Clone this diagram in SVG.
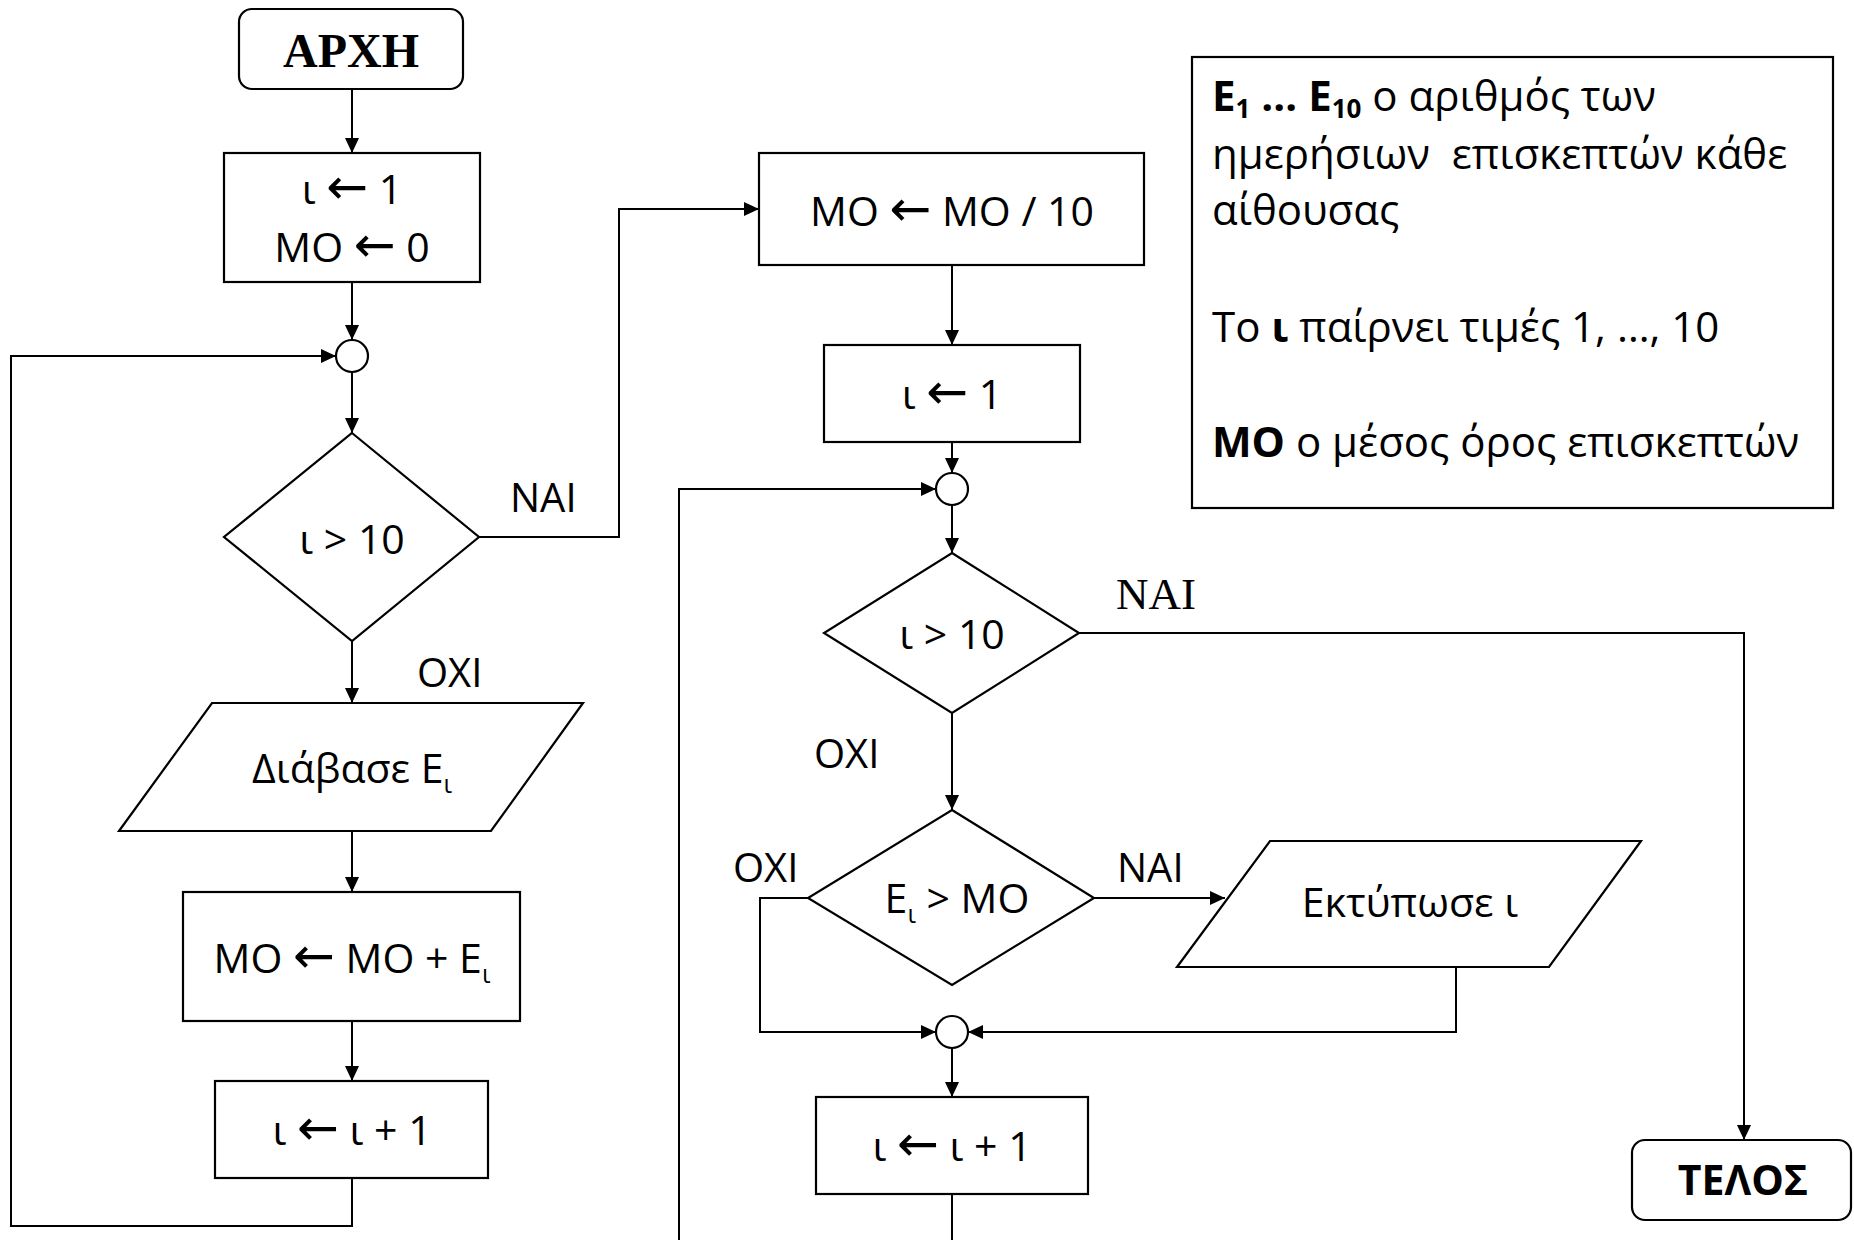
<svg xmlns="http://www.w3.org/2000/svg" width="1854" height="1240" viewBox="0 0 1854 1240">
<defs>
<style>
.shape{fill:#fff;stroke:#000;stroke-width:2.2}
.conn{fill:none;stroke:#000;stroke-width:2}
.t{font-family:"Open Sans","DejaVu Sans",sans-serif;font-size:41px;fill:#000;text-anchor:middle}
.lbl{font-family:"Open Sans","DejaVu Sans",sans-serif;font-size:40px;fill:#000}
.serif{font-family:"Liberation Serif","Times New Roman",serif;fill:#000}
.leg{font-family:"Open Sans","DejaVu Sans",sans-serif;font-size:42px;fill:#000;white-space:pre}
.b{font-weight:bold}
.arr{font-family:"DejaVu Sans",sans-serif;font-size:50px}
</style>
<marker id="ah" viewBox="0 0 15 14" refX="15" refY="7" markerWidth="15" markerHeight="14" markerUnits="userSpaceOnUse" orient="auto">
<path d="M0,0 L15,7 L0,14 z" fill="#000"/>
</marker>
</defs>
<rect width="1854" height="1240" fill="#fff"/>

<g id="connectors">
<path class="conn" marker-end="url(#ah)" d="M352,89 V153"/>
<path class="conn" marker-end="url(#ah)" d="M352,282 V340"/>
<path class="conn" marker-end="url(#ah)" d="M352,372 V433"/>
<path class="conn" marker-end="url(#ah)" d="M479,537 H619 V209 H759"/>
<path class="conn" marker-end="url(#ah)" d="M352,641 V703"/>
<path class="conn" marker-end="url(#ah)" d="M352,831 V892"/>
<path class="conn" marker-end="url(#ah)" d="M352,1021 V1081"/>
<path class="conn" marker-end="url(#ah)" d="M352,1178 V1226 H11 V356 H336"/>
<path class="conn" marker-end="url(#ah)" d="M952,265 V345"/>
<path class="conn" marker-end="url(#ah)" d="M952,442 V473"/>
<path class="conn" marker-end="url(#ah)" d="M952,505 V553"/>
<path class="conn" marker-end="url(#ah)" d="M1079,633 H1744 V1140"/>
<path class="conn" marker-end="url(#ah)" d="M952,713 V810"/>
<path class="conn" marker-end="url(#ah)" d="M1094,898 H1225"/>
<path class="conn" marker-end="url(#ah)" d="M808,898 H760 V1032 H936"/>
<path class="conn" marker-end="url(#ah)" d="M1456,967 V1032 H968"/>
<path class="conn" marker-end="url(#ah)" d="M952,1048 V1097"/>
<path class="conn" d="M952,1194 V1240"/>
<path class="conn" marker-end="url(#ah)" d="M679,1240 V489 H936"/>
</g>

<g id="labels">
<text class="lbl" x="510" y="512">ΝΑΙ</text>
<text class="lbl" x="417" y="687">ΟΧΙ</text>
<text class="serif" x="1116" y="609" font-size="45">ΝΑΙ</text>
<text class="lbl" x="814" y="768">ΟΧΙ</text>
<text class="lbl" x="733" y="882">ΟΧΙ</text>
<text class="lbl" x="1117" y="882">ΝΑΙ</text>
</g>

<g id="start">
<rect class="shape" x="239" y="9" width="224" height="80" rx="13"/>
<text class="serif b" x="351" y="67" font-size="48" text-anchor="middle">ΑΡΧΗ</text>
</g>

<g id="init1">
<rect class="shape" x="224" y="153" width="256" height="129"/>
<text class="t" x="352" y="204">ι <tspan class="arr">←</tspan> 1</text>
<text class="t" x="352" y="262">ΜΟ <tspan class="arr">←</tspan> 0</text>
</g>

<g id="join1">
<circle class="shape" cx="352" cy="356" r="16"/>
</g>

<g id="cond1">
<polygon class="shape" points="352,433 479,537 352,641 224,537"/>
<text class="t" x="352" y="554">ι &gt; 10</text>
</g>

<g id="read">
<polygon class="shape" points="212,703 583,703 491,831 119,831"/>
<text class="t" x="352" y="783" font-size="42">Διάβασε Ε<tspan font-size="25" dy="10">ι</tspan></text>
</g>

<g id="sum">
<rect class="shape" x="183" y="892" width="337" height="129"/>
<text class="t" x="352" y="973">ΜΟ <tspan class="arr">←</tspan> ΜΟ + Ε<tspan font-size="25" dy="10">ι</tspan></text>
</g>

<g id="inc1">
<rect class="shape" x="215" y="1081" width="273" height="97"/>
<text class="t" x="352" y="1145">ι <tspan class="arr">←</tspan> ι + 1</text>
</g>

<g id="avg">
<rect class="shape" x="759" y="153" width="385" height="112"/>
<text class="t" x="952" y="226">ΜΟ <tspan class="arr">←</tspan> ΜΟ / 10</text>
</g>

<g id="init2">
<rect class="shape" x="824" y="345" width="256" height="97"/>
<text class="t" x="952" y="409">ι <tspan class="arr">←</tspan> 1</text>
</g>

<g id="join2">
<circle class="shape" cx="952" cy="489" r="16"/>
</g>

<g id="cond2">
<polygon class="shape" points="952,553 1079,633 952,713 824,633"/>
<text class="t" x="952" y="649">ι &gt; 10</text>
</g>

<g id="cond3">
<polygon class="shape" points="952,810 1094,898 952,985 808,898"/>
<text class="t" x="957" y="913">Ε<tspan font-size="25" dy="10">ι</tspan><tspan dy="-10"> &gt; ΜΟ</tspan></text>
</g>

<g id="print">
<polygon class="shape" points="1270,841 1641,841 1549,967 1177,967"/>
<text class="t" x="1410" y="917" font-size="42">Εκτύπωσε ι</text>
</g>

<g id="join3">
<circle class="shape" cx="952" cy="1032" r="16"/>
</g>

<g id="inc2">
<rect class="shape" x="816" y="1097" width="272" height="97"/>
<text class="t" x="952" y="1161">ι <tspan class="arr">←</tspan> ι + 1</text>
</g>

<g id="end">
<rect class="shape" x="1632" y="1140" width="219" height="80" rx="13"/>
<text class="t b" x="1743" y="1195" font-size="38">ΤΕΛΟΣ</text>
</g>

<g id="legend">
<rect class="shape" x="1192" y="57" width="641" height="451"/>
<text class="leg" x="1212" y="111"><tspan class="b">Ε</tspan><tspan class="b" font-size="26" dy="7">1</tspan><tspan class="b" dy="-7"> … Ε</tspan><tspan class="b" font-size="26" dy="7">10</tspan><tspan dy="-7"> ο αριθμός των</tspan></text>
<text class="leg" x="1212" y="169">ημερήσιων  επισκεπτών κάθε</text>
<text class="leg" x="1212" y="225">αίθουσας</text>
<text class="leg" x="1212" y="342">Το <tspan class="b">ι</tspan> παίρνει τιμές 1, …, 10</text>
<text class="leg" x="1212" y="457"><tspan class="b">ΜΟ</tspan> ο μέσος όρος επισκεπτών</text>
</g>
</svg>
